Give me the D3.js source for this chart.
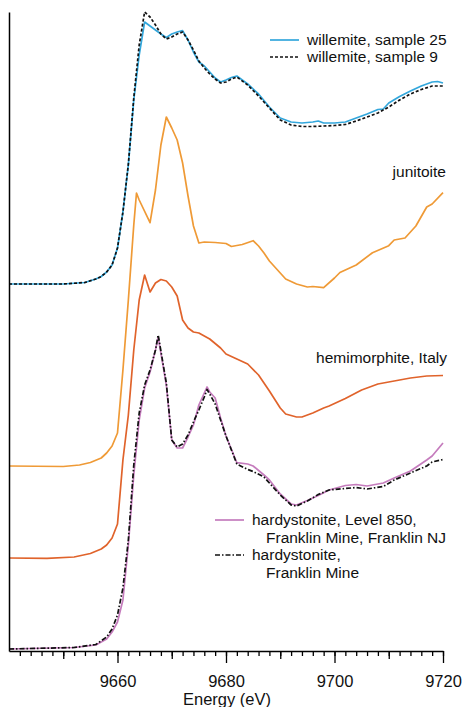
<!DOCTYPE html>
<html lang="en">
<head>
    <title>Zn K-edge XANES</title>
    <script src="https://d3js.org/d3.v7.min.js"></script>
    <style>
        body { margin: 0; background: #fff; }
        text { font-family: "Liberation Sans", Arial, sans-serif; fill: #111; }
    </style>
</head>
<body>
<svg id="g1"></svg>
<script>

    // [energy (eV), stacked normalized absorbance]
    const willemite25 = [
        [9640,3.66],[9650,3.66],[9654,3.675],[9656,3.71],[9657,3.735],[9658,3.78],[9659,3.85],
        [9660,4.02],[9661,4.38],[9662,4.85],[9663,5.50],[9664,5.95],[9665,6.28],[9666,6.24],
        [9667,6.20],[9668,6.16],[9669,6.125],[9670,6.16],[9671,6.18],[9672,6.193],[9673,6.10],
        [9674,5.98],[9675,5.88],[9676,5.84],[9677,5.78],[9678,5.72],[9679,5.68],[9680,5.70],
        [9681,5.725],[9682,5.74],[9684,5.66],[9686,5.56],[9688,5.43],[9690,5.32],[9692,5.28],
        [9694,5.27],[9696,5.28],[9697,5.29],[9698,5.27],[9700,5.27],[9702,5.28],[9704,5.32],
        [9706,5.36],[9708,5.405],[9709,5.41],[9710,5.47],[9712,5.535],[9714,5.59],[9716,5.64],
        [9718,5.68],[9719,5.685],[9720,5.67]
    ];
    const willemite9 = [
        [9640,3.66],[9650,3.66],[9654,3.675],[9656,3.71],[9657,3.735],[9658,3.78],[9659,3.85],
        [9660,4.02],[9661,4.38],[9662,4.86],[9663,5.52],[9664,6.05],[9665,6.38],[9666,6.33],
        [9667,6.25],[9668,6.16],[9669,6.11],[9670,6.13],[9671,6.16],[9672,6.18],[9673,6.10],
        [9674,6.00],[9675,5.89],[9676,5.82],[9677,5.76],[9678,5.71],[9679,5.67],[9680,5.68],
        [9681,5.71],[9682,5.73],[9684,5.65],[9686,5.54],[9688,5.42],[9690,5.30],[9692,5.25],
        [9694,5.235],[9696,5.235],[9698,5.24],[9700,5.245],[9702,5.255],[9704,5.29],[9706,5.33],
        [9708,5.37],[9710,5.43],[9712,5.50],[9714,5.56],[9716,5.605],[9718,5.64],[9720,5.64]
    ];
    const junitoite = [
        [9640,1.84],[9650,1.835],[9653,1.85],[9655,1.875],[9657,1.92],[9658,1.97],[9659,2.04],
        [9660,2.17],[9661,2.80],[9662,3.50],[9663,4.25],[9663.5,4.57],[9664,4.50],[9666,4.273],
        [9667,4.60],[9668,5.05],[9669,5.33],[9670,5.22],[9671,5.10],[9672,4.87],[9673,4.54],
        [9674,4.24],[9675,4.07],[9676,4.08],[9678,4.075],[9680,4.065],[9681,4.035],[9683,4.055],
        [9685,4.093],[9686,4.04],[9687,3.97],[9688,3.89],[9690,3.77],[9691,3.71],[9693,3.66],
        [9695,3.63],[9696,3.635],[9698,3.623],[9700,3.72],[9701,3.775],[9702,3.80],[9704,3.85],
        [9707,3.973],[9710,4.043],[9711,4.10],[9713,4.12],[9715,4.24],[9717,4.43],[9718,4.46],
        [9720,4.573]
    ];
    const hemimorphite = [
        [9640,0.92],[9647,0.917],[9652,0.93],[9655,0.965],[9657,1.01],[9658,1.05],[9659,1.12],
        [9660,1.26],[9661,1.90],[9662,2.35],[9663,3.00],[9664,3.50],[9665,3.75],[9666,3.58],
        [9667,3.67],[9668,3.705],[9669,3.69],[9670,3.63],[9671,3.54],[9672,3.30],[9673,3.22],
        [9674,3.18],[9675,3.17],[9677,3.11],[9679,3.02],[9680,2.96],[9682,2.91],[9684,2.86],
        [9686,2.75],[9688,2.59],[9690,2.42],[9691,2.36],[9693,2.33],[9694,2.33],[9696,2.37],
        [9698,2.42],[9699,2.44],[9702,2.515],[9705,2.60],[9708,2.66],[9711,2.69],[9714,2.72],
        [9717,2.74],[9720,2.745]
    ];
    const hardystoniteL850 = [
        [9640,0.01],[9652,0.025],[9656,0.05],[9658,0.11],[9659,0.18],[9660,0.28],[9661,0.50],
        [9662,1.05],[9663,1.75],[9664,2.30],[9665,2.62],[9666,2.78],[9667,3.00],[9667.5,3.13],
        [9669,2.65],[9670,2.10],[9671,2.02],[9672,2.02],[9673,2.13],[9674,2.25],[9675,2.45],
        [9676,2.57],[9676.5,2.63],[9677,2.58],[9678,2.52],[9679,2.32],[9680,2.14],[9682,1.873],
        [9684,1.86],[9685,1.84],[9687,1.75],[9688,1.70],[9690,1.56],[9692,1.46],[9693,1.45],
        [9695,1.495],[9697,1.545],[9699,1.60],[9702,1.645],[9704,1.655],[9706,1.64],[9709,1.67],
        [9711,1.72],[9714,1.79],[9717,1.90],[9718,1.94],[9720,2.07]
    ];
    const hardystoniteFM = [
        [9640,0.01],[9652,0.025],[9656,0.055],[9658,0.13],[9659,0.21],[9660,0.35],[9661,0.62],
        [9662,1.10],[9663,1.85],[9664,2.37],[9665,2.65],[9666,2.80],[9667,3.00],[9667.5,3.15],
        [9669,2.67],[9670,2.10],[9671,2.03],[9672,2.06],[9673,2.15],[9674,2.28],[9675,2.40],
        [9676,2.53],[9676.5,2.605],[9677,2.56],[9678,2.46],[9679,2.30],[9680,2.14],[9682,1.86],
        [9684,1.805],[9685,1.785],[9687,1.73],[9688,1.67],[9690,1.55],[9692,1.45],[9693,1.44],
        [9695,1.49],[9697,1.555],[9699,1.60],[9702,1.615],[9704,1.625],[9706,1.61],[9709,1.635],
        [9711,1.70],[9714,1.77],[9717,1.84],[9718,1.88],[9720,1.905]
    ];

    const xTickLabels = [9660, 9680, 9700, 9720];
    const xLabel = "Energy (eV)";

    let width = 464,
        height = 707;

    let svg = d3.select("#g1")
        .attr("width", width)
        .attr("height", height);

    let x = d3.scaleLinear().domain([9640, 9720]).range([9, 443]);
    let y = d3.scaleLinear().domain([-0.01, 6.38]).range([651, 12]);

    let line = d3.line()
        .x(d => x(d[0]))
        .y(d => y(d[1]));

    // series drawn colored first, black on top
    let series = [
        {data: willemite25, color: "#33a7dc", dash: null},
        {data: junitoite, color: "#ef9a36", dash: null},
        {data: hemimorphite, color: "#e0632b", dash: null},
        {data: hardystoniteL850, color: "#c57cbd", dash: null},
        {data: willemite9, color: "#111", dash: "3,2"},
        {data: hardystoniteFM, color: "#111", dash: "5,2,1.5,2"}
    ];

    svg.append("g").attr("id", "lines")
        .selectAll("path")
        .data(series)
        .join("path")
            .attr("d", d => line(d.data))
            .attr("fill", "none")
            .attr("stroke", d => d.color)
            .attr("stroke-width", 1.7)
            .attr("stroke-linejoin", "round")
            .attr("stroke-dasharray", d => d.dash);

    // axes
    let xMinor = d3.range(9642, 9721, 2);
    svg.append("g")
        .attr("transform", `translate(0,${y(-0.01)})`)
        .call(d3.axisBottom(x).tickValues(xMinor).tickSize(5).tickFormat("").tickSizeOuter(0))
        .call(g => g.select(".domain").attr("stroke-width", 1.5));

    svg.append("g")
        .attr("transform", `translate(0,${y(-0.01)})`)
        .call(d3.axisBottom(x).tickValues([9650, 9670, 9690, 9710]).tickSize(8).tickFormat("").tickSizeOuter(0))
        .call(g => g.select(".domain").remove());

    svg.append("g")
        .attr("transform", `translate(0,${y(-0.01)})`)
        .call(d3.axisBottom(x).tickValues(xTickLabels).tickSize(12).tickPadding(12)
            .tickFormat(d3.format("d")).tickSizeOuter(0))
        .call(g => g.select(".domain").remove())
        .call(g => g.selectAll("text").attr("font-size", 16.5).attr("fill", "#111"));

    svg.selectAll(".tick line").attr("stroke-width", 1.3);

    svg.append("g")
        .attr("transform", `translate(${x(9640)},0)`)
        .call(d3.axisLeft(y).tickValues([]).tickSizeOuter(0))
        .call(g => g.select(".domain").attr("stroke-width", 1.5));

    svg.append("text")
        .attr("x", x(9680) + 1)
        .attr("y", 705)
        .attr("text-anchor", "middle")
        .attr("font-size", 16.5)
        .text(xLabel);

    // labels and legends
    let annotations = svg.append("g").attr("id", "annotations");

    let legendTop = [
        {label: ["willemite, sample 25"], color: "#33a7dc", dash: null, y: 40},
        {label: ["willemite, sample 9"], color: "#111", dash: "3,2", y: 57}
    ];
    let legendBottom = [
        {label: ["hardystonite, Level 850,", "Franklin Mine, Franklin NJ"], color: "#c57cbd", dash: null, y: 520},
        {label: ["hardystonite,", "Franklin Mine"], color: "#111", dash: "5,2,1.5,2", y: 555}
    ];

    function drawLegend(items, x0) {
        items.forEach(d => {
            annotations.append("line")
                .attr("x1", x0).attr("x2", x0 + 29)
                .attr("y1", d.y).attr("y2", d.y)
                .attr("stroke", d.color)
                .attr("stroke-width", 1.7)
                .attr("stroke-dasharray", d.dash);
            d.label.forEach((t, i) => {
                annotations.append("text")
                    .attr("x", x0 + 37 + (i > 0 ? 14 : 0))
                    .attr("y", d.y + i * 17.3)
                    .attr("dy", "0.35em")
                    .attr("font-size", 15.5)
                    .text(t);
            });
        });
    }
    drawLegend(legendTop, 270);
    drawLegend(legendBottom, 215);

    annotations.append("text")
        .attr("x", 446).attr("y", 172).attr("dy", "0.35em")
        .attr("text-anchor", "end")
        .attr("font-size", 15.5)
        .text("junitoite");

    annotations.append("text")
        .attr("x", 447).attr("y", 358).attr("dy", "0.35em")
        .attr("text-anchor", "end")
        .attr("font-size", 15.5)
        .text("hemimorphite, Italy");

</script>
</body>
</html>
